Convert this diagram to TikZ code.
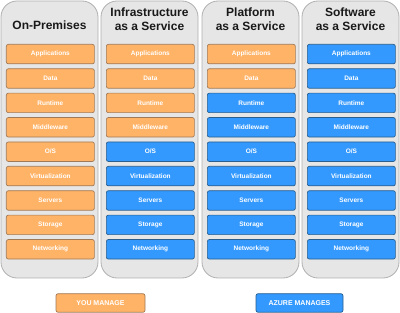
\documentclass[tikz,border=0pt]{standalone}
\usepackage{fontspec}
\setmainfont{Liberation Sans}
\definecolor{orfill}{HTML}{FFB366}
\definecolor{ordraw}{HTML}{A07A58}
\definecolor{blfill}{HTML}{3399FF}
\definecolor{bldraw}{HTML}{2A5E8C}
\definecolor{colfill}{HTML}{E6E6E6}
\definecolor{coldraw}{HTML}{B0B0B0}
\begin{document}
\begin{tikzpicture}[x=1pt,y=-1pt,
  colbox/.style={draw=coldraw,fill=colfill,line width=0.8pt,rounded corners=16pt},
  layer/.style={draw,line width=0.7pt,rounded corners=2pt,minimum width=88pt,minimum height=19.5pt,inner sep=0pt,
     font=\fontsize{6.5}{7}\selectfont\bfseries,text=white},
  you/.style={layer,fill=orfill,draw=ordraw},
  az/.style={layer,fill=blfill,draw=bldraw},
  title/.style={font=\fontsize{12}{14}\selectfont\bfseries,align=center,text=black!90}]
\useasboundingbox (0,0) rectangle (400,313);
\foreach \c/\xl/\n in {1/1/9,2/101/4,3/202/2,4/302/0}{
  \draw[colbox] (\xl,1) rectangle ++(97,277);
  \foreach \i [count=\k from 0] in {Applications,Data,Runtime,Middleware,O/S,Virtualization,Servers,Storage,Networking}{
    \pgfmathtruncatemacro{\isyou}{(\k<\n)?1:0}
    \ifnum\isyou=1
      \node[you,anchor=north west] (b\c-\k) at (\xl+5,44+24.4*\k) {\i};
    \else
      \node[az,anchor=north west] (b\c-\k) at (\xl+5,44+24.4*\k) {\i};
    \fi
  }
}
\node[title] (t1) at (49.5,25) {On-Premises};
\node[title] (t2) at (149.5,19.5) {Infrastructure\\as a Service};
\node[title] (t3) at (250.5,19.5) {Platform\\as a Service};
\node[title] (t4) at (350.5,19.5) {Software\\as a Service};
\node[you,minimum width=89pt,minimum height=18.5pt,font=\fontsize{7}{8}\selectfont\bfseries] (lyou) at (100.5,303) {YOU MANAGE};
\node[az,minimum width=87pt,minimum height=18.5pt,font=\fontsize{7}{8}\selectfont\bfseries] (laz) at (299.5,303) {AZURE MANAGES};
\end{tikzpicture}
\end{document}
